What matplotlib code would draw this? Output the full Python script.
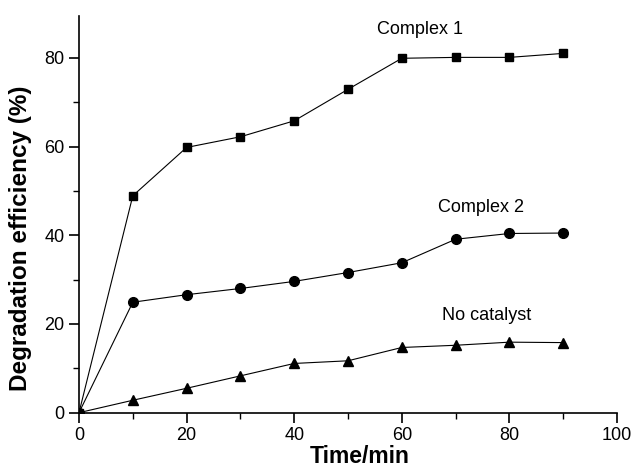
import matplotlib
matplotlib.use("Agg")
import matplotlib.pyplot as plt
from matplotlib.ticker import MultipleLocator

plt.rcParams["font.family"] = ["Liberation Sans", "DejaVu Sans"]

time_min = [0, 10, 20, 30, 40, 50, 60, 70, 80, 90]
complex1 = [0, 48.9, 59.8, 62.2, 65.8, 72.9, 79.9, 80.1, 80.1, 81.0]
complex2 = [0, 24.9, 26.6, 28.0, 29.6, 31.6, 33.8, 39.1, 40.4, 40.5]
no_catalyst = [0, 2.8, 5.5, 8.3, 11.1, 11.7, 14.7, 15.2, 15.9, 15.8]

fig = plt.figure(figsize=(6.35, 4.67), dpi=100)
ax = fig.add_axes([0.1244, 0.1163, 0.8473, 0.8501])

ax.plot(time_min, complex1, "k-", marker="s", markersize=6, linewidth=0.8)
ax.plot(time_min, complex2, "k-", marker="o", markersize=7, linewidth=0.8)
ax.plot(time_min, no_catalyst, "k-", marker="^", markersize=7.5, linewidth=0.8)

ax.text(63.4, 86.4, "Complex 1", ha="center", va="center", fontsize=13)
ax.text(74.8, 46.3, "Complex 2", ha="center", va="center", fontsize=13)
ax.text(75.8, 22.0, "No catalyst", ha="center", va="center", fontsize=13)

ax.set_xlim(0, 100)
ax.set_ylim(0, 89.5)
ax.xaxis.set_major_locator(MultipleLocator(20))
ax.xaxis.set_minor_locator(MultipleLocator(10))
ax.yaxis.set_major_locator(MultipleLocator(20))
ax.yaxis.set_minor_locator(MultipleLocator(10))
ax.spines["top"].set_visible(False)
ax.spines["right"].set_visible(False)
ax.spines["left"].set_linewidth(1.2)
ax.spines["bottom"].set_linewidth(1.2)
ax.tick_params(which="major", direction="out", length=7, width=1.2, labelsize=13)
ax.tick_params(which="minor", direction="out", length=4, width=1.0)

ax.set_xlabel("Time/min", fontsize=16.5, fontweight="bold")
ax.xaxis.set_label_coords(0.522, -0.081)
ax.set_ylabel("Degradation efficiency (%)", fontsize=17.5, fontweight="bold")
ax.yaxis.set_label_coords(-0.087, 0.44)

fig.savefig("out.png", dpi=100)
